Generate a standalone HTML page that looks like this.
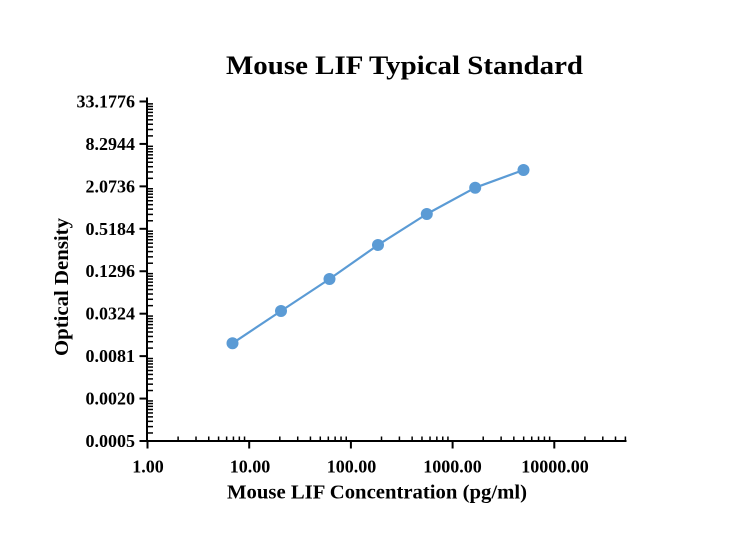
<!DOCTYPE html>
<html>
<head>
<meta charset="utf-8">
<style>
  html,body{margin:0;padding:0;background:#fff;}
  svg{display:block;}
  text{font-family:"Liberation Serif","Times New Roman",serif;font-weight:bold;fill:#000;}
</style>
</head>
<body>
<svg width="737" height="553" viewBox="0 0 737 553" xmlns="http://www.w3.org/2000/svg">
  <rect x="0" y="0" width="737" height="553" fill="#fff"/>
  <defs>
    <g id="ymin" stroke="#000" stroke-width="1.5">
      <line x1="147" x2="153" y1="-8.03" y2="-8.03"/>
      <line x1="147" x2="153" y1="-14.39" y2="-14.39"/>
      <line x1="147" x2="153" y1="-19.65" y2="-19.65"/>
      <line x1="147" x2="153" y1="-24.14" y2="-24.14"/>
      <line x1="147" x2="153" y1="-28.05" y2="-28.05"/>
      <line x1="147" x2="153" y1="-31.52" y2="-31.52"/>
      <line x1="147" x2="153" y1="-34.64" y2="-34.64"/>
      <line x1="147" x2="153" y1="-37.46" y2="-37.46"/>
      <line x1="147" x2="153" y1="-40.05" y2="-40.05"/>
    </g>
    <g id="xmin" stroke="#000" stroke-width="1.5">
      <line y1="441" y2="436.5" x1="30.61" x2="30.61"/>
      <line y1="441" y2="436.5" x1="48.52" x2="48.52"/>
      <line y1="441" y2="436.5" x1="61.23" x2="61.23"/>
      <line y1="441" y2="436.5" x1="71.08" x2="71.08"/>
      <line y1="441" y2="436.5" x1="79.13" x2="79.13"/>
      <line y1="441" y2="436.5" x1="85.94" x2="85.94"/>
      <line y1="441" y2="436.5" x1="91.84" x2="91.84"/>
      <line y1="441" y2="436.5" x1="97.04" x2="97.04"/>
    </g>
  </defs>

  <!-- Title -->
  <text x="404.5" y="74" font-size="26" text-anchor="middle" textLength="357" lengthAdjust="spacingAndGlyphs">Mouse LIF Typical Standard</text>

  <!-- Axes -->
  <line x1="147" y1="97.5" x2="147" y2="442" stroke="#000" stroke-width="2"/>
  <line x1="146" y1="441" x2="626.5" y2="441" stroke="#000" stroke-width="2"/>

  <!-- Y minor ticks -->
  <use href="#ymin" transform="translate(0,441)"/>
  <use href="#ymin" transform="translate(0,398.56)"/>
  <use href="#ymin" transform="translate(0,356.12)"/>
  <use href="#ymin" transform="translate(0,313.68)"/>
  <use href="#ymin" transform="translate(0,271.24)"/>
  <use href="#ymin" transform="translate(0,228.8)"/>
  <use href="#ymin" transform="translate(0,186.36)"/>
  <use href="#ymin" transform="translate(0,143.92)"/>

  <!-- Y major ticks -->
  <g stroke="#000" stroke-width="2">
    <line x1="139.5" x2="147" y1="441" y2="441"/>
    <line x1="139.5" x2="147" y1="398.56" y2="398.56"/>
    <line x1="139.5" x2="147" y1="356.12" y2="356.12"/>
    <line x1="139.5" x2="147" y1="313.68" y2="313.68"/>
    <line x1="139.5" x2="147" y1="271.24" y2="271.24"/>
    <line x1="139.5" x2="147" y1="228.8" y2="228.8"/>
    <line x1="139.5" x2="147" y1="186.36" y2="186.36"/>
    <line x1="139.5" x2="147" y1="143.92" y2="143.92"/>
    <line x1="139.5" x2="147" y1="101.48" y2="101.48"/>
  </g>

  <!-- Y tick labels -->
  <g font-size="18" text-anchor="end">
    <text x="135" y="447">0.0005</text>
    <text x="135" y="404.5">0.0020</text>
    <text x="135" y="362">0.0081</text>
    <text x="135" y="319.7">0.0324</text>
    <text x="135" y="277.2">0.1296</text>
    <text x="135" y="234.8">0.5184</text>
    <text x="135" y="192.4">2.0736</text>
    <text x="135" y="150">8.2944</text>
    <text x="135" y="107.5">33.1776</text>
  </g>

  <!-- X minor ticks -->
  <use href="#xmin" transform="translate(147.5,0)"/>
  <use href="#xmin" transform="translate(249.2,0)"/>
  <use href="#xmin" transform="translate(350.9,0)"/>
  <use href="#xmin" transform="translate(452.6,0)"/>
  <g stroke="#000" stroke-width="1.5">
    <line y1="441" y2="436.5" x1="584.9" x2="584.9"/>
    <line y1="441" y2="436.5" x1="602.8" x2="602.8"/>
    <line y1="441" y2="436.5" x1="615.5" x2="615.5"/>
    <line y1="441" y2="436.5" x1="625.4" x2="625.4"/>
  </g>

  <!-- X major ticks -->
  <g stroke="#000" stroke-width="2">
    <line y1="441" y2="448.5" x1="147.5" x2="147.5"/>
    <line y1="441" y2="448.5" x1="249.2" x2="249.2"/>
    <line y1="441" y2="448.5" x1="350.9" x2="350.9"/>
    <line y1="441" y2="448.5" x1="452.6" x2="452.6"/>
    <line y1="441" y2="448.5" x1="554.3" x2="554.3"/>
  </g>

  <!-- X tick labels -->
  <g font-size="18" text-anchor="middle">
    <text x="148" y="472.5">1.00</text>
    <text x="250" y="472.5">10.00</text>
    <text x="351.5" y="472.5">100.00</text>
    <text x="452.5" y="472.5">1000.00</text>
    <text x="555" y="472.5">10000.00</text>
  </g>

  <!-- Axis titles -->
  <text x="377" y="498.5" font-size="20" text-anchor="middle" textLength="300" lengthAdjust="spacingAndGlyphs">Mouse LIF Concentration (pg/ml)</text>
  <text transform="translate(68,287) rotate(-90)" x="0" y="0" font-size="20" text-anchor="middle" textLength="138" lengthAdjust="spacingAndGlyphs">Optical Density</text>

  <!-- Data -->
  <polyline fill="none" stroke="#5b9bd5" stroke-width="2.2" stroke-linejoin="round"
    points="232.5,343.3 281,311 329.5,279 378,245 426.8,214 475.2,187.7 523.5,170"/>
  <g fill="#5b9bd5">
    <circle cx="232.5" cy="343.3" r="6"/>
    <circle cx="281" cy="311" r="6"/>
    <circle cx="329.5" cy="279" r="6"/>
    <circle cx="378" cy="245" r="6"/>
    <circle cx="426.8" cy="214" r="6"/>
    <circle cx="475.2" cy="187.7" r="6"/>
    <circle cx="523.5" cy="170" r="6"/>
  </g>
</svg>
</body>
</html>
